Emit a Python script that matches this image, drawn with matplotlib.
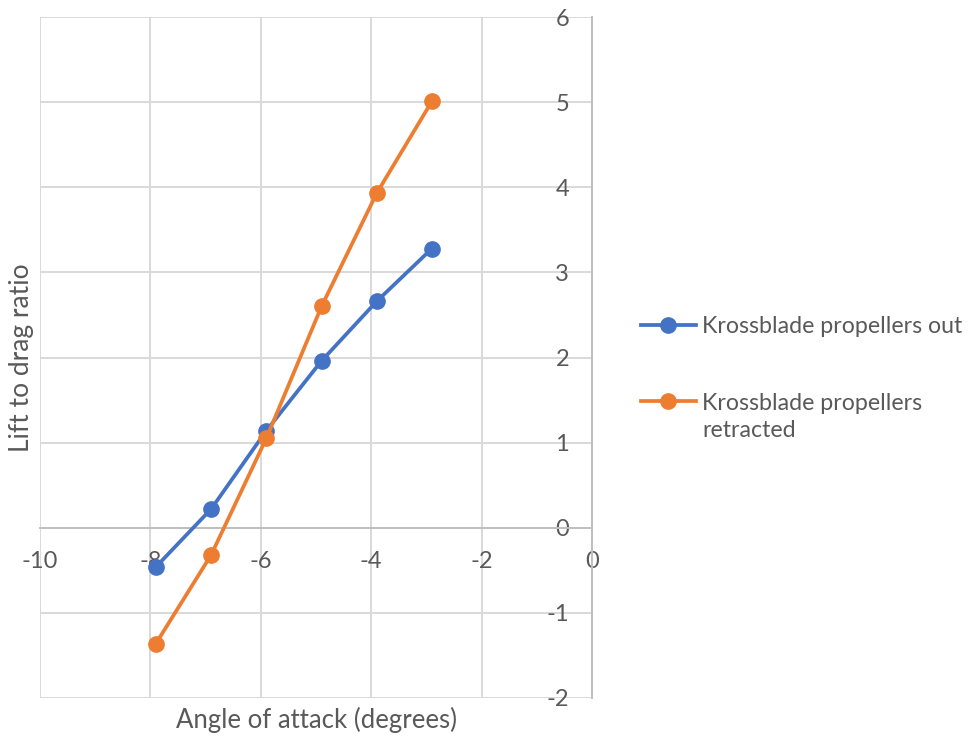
import matplotlib
matplotlib.use("Agg")
import matplotlib.pyplot as plt
from matplotlib.legend_handler import HandlerLine2D

plt.rcParams['font.family'] = ['Lato', 'DejaVu Sans']
plt.rcParams['axes.unicode_minus'] = False

angle = [-7.9, -6.9, -5.9, -4.9, -3.9, -2.9]
ld_out = [-0.46, 0.22, 1.14, 1.96, 2.66, 3.28]
ld_retracted = [-1.36, -0.32, 1.05, 2.60, 3.93, 5.01]
series_names = ["Krossblade propellers out", "Krossblade propellers\nretracted"]
xticks = [-10, -8, -6, -4, -2, 0]
yticks = [-2, -1, 0, 1, 2, 3, 4, 5, 6]

BLUE = "#4472C4"
ORANGE = "#ED7D31"
TXT = "#595959"
GRID = "#D9D9D9"
AX = "#BFBFBF"

fig = plt.figure(figsize=(9.68, 7.4), dpi=100)
ax = fig.add_axes([40/968, 1-698/740, (592-40)/968, (698-17)/740])

l1, = ax.plot(angle, ld_out, color=BLUE, lw=2.7, marker='o', ms=11, zorder=5, clip_on=False)
l2, = ax.plot(angle, ld_retracted, color=ORANGE, lw=2.7, marker='o', ms=11, zorder=5, clip_on=False)

ax.set_xlim(-10, 0)
ax.set_ylim(-2, 6)
ax.set_xticks(xticks)
ax.set_yticks(yticks)
ax.grid(True, color=GRID, lw=1.4)
ax.set_axisbelow(True)

for s in ['left', 'top']:
    ax.spines[s].set_visible(False)
ax.spines['bottom'].set_position(('data', 0))
ax.spines['right'].set_position(('data', 0))
for s in ['bottom', 'right']:
    ax.spines[s].set_color(AX)
    ax.spines[s].set_linewidth(1.4)

ax.yaxis.set_ticks_position('right')
ax.tick_params(axis='y', length=0, labelright=True, labelleft=False, pad=-16.5,
               labelsize=17, labelcolor=TXT)
for t in ax.get_yticklabels():
    t.set_horizontalalignment('right')
ax.tick_params(axis='x', length=0, pad=17, labelsize=17, labelcolor=TXT)

fig.text(316/968, 1-720/740, "Angle of attack (degrees)", ha='center', va='center',
         fontsize=18.5, color=TXT)
fig.text(22/968, 1-358/740, "Lift to drag ratio", ha='center', va='center',
         rotation=90, fontsize=19, color=TXT)


class ShiftHandler(HandlerLine2D):
    def __init__(self, dy, **kw):
        super().__init__(**kw)
        self.dy = dy

    def create_artists(self, legend, orig_handle, xdescent, ydescent, width,
                       height, fontsize, trans):
        return super().create_artists(legend, orig_handle, xdescent,
                                      ydescent - self.dy * fontsize, width,
                                      height, fontsize, trans)


leg = fig.legend([l1, l2], series_names, loc='upper left',
                 bbox_to_anchor=(641/968, 1-316/740), frameon=False,
                 fontsize=16.7, labelcolor=TXT, handlelength=2.37, handletextpad=0.26,
                 labelspacing=2.4, borderpad=0, borderaxespad=0,
                 handler_map={l2: ShiftHandler(1.38)})
for t in leg.get_texts():
    t.set_linespacing(1.4)

fig.savefig("out.png", dpi=100)
